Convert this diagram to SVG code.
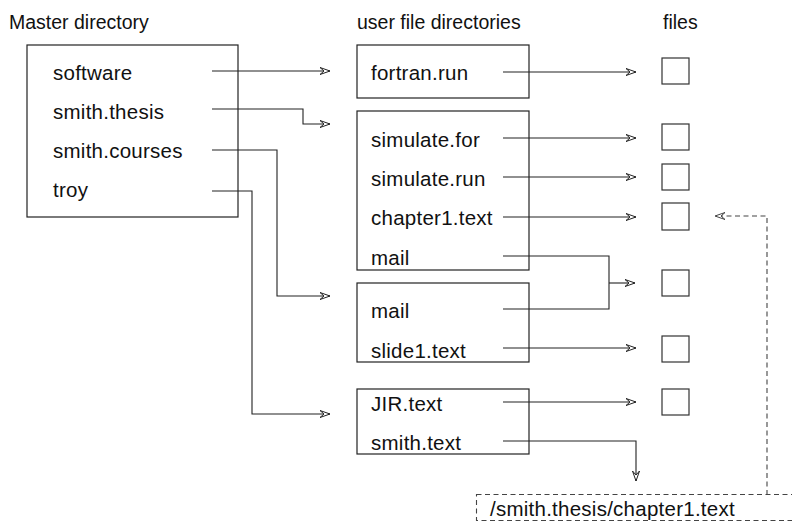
<svg xmlns="http://www.w3.org/2000/svg" width="792" height="521" viewBox="0 0 792 521">
<style>
  .box { fill: none; stroke: #222; stroke-width: 1.2; }
  .file { fill: #fff; stroke: #333; stroke-width: 1.2; }
  .t { font-family: "Liberation Sans", Arial, sans-serif; font-size: 20.5px; fill: #111; letter-spacing: 0.25px; }
  .h { font-family: "Liberation Sans", Arial, sans-serif; font-size: 19.5px; fill: #111; }
  .c { fill: none; stroke: #222; stroke-width: 1.1; marker-end: url(#arr); }
  .cn { fill: none; stroke: #222; stroke-width: 1.1; }
  .d { fill: none; stroke: #444; stroke-width: 1.1; stroke-dasharray: 5 3.5; }
</style>
<defs>
  <marker id="arr" viewBox="0 0 10 8" refX="10" refY="4" markerWidth="10" markerHeight="8" markerUnits="userSpaceOnUse" orient="auto">
    <path d="M0,0.5 L10,4 L0,7.5 L4,4 Z" fill="#fff" stroke="#222" stroke-width="1"/>
  </marker>
  <marker id="arrd" viewBox="0 0 10 8" refX="10" refY="4" markerWidth="10" markerHeight="8" markerUnits="userSpaceOnUse" orient="auto">
    <path d="M0,0.5 L10,4 L0,7.5 L4,4 Z" fill="#fff" stroke="#444" stroke-width="1"/>
  </marker>
</defs>

<g id="headers">
  <text class="h" x="9" y="29">Master directory</text>
  <text class="h" x="357" y="29">user file directories</text>
  <text class="h" x="663" y="29">files</text>
</g>

<g id="master">
  <rect class="box" x="27" y="45" width="211" height="172"/>
  <text class="t" x="53" y="80">software</text>
  <text class="t" x="53" y="119">smith.thesis</text>
  <text class="t" x="53" y="158">smith.courses</text>
  <text class="t" x="53" y="197">troy</text>
</g>

<g id="dir-software">
  <rect class="box" x="357" y="45" width="172" height="53"/>
  <text class="t" x="371" y="80">fortran.run</text>
</g>

<g id="dir-thesis">
  <rect class="box" x="357" y="111" width="172" height="159"/>
  <text class="t" x="371" y="147">simulate.for</text>
  <text class="t" x="371" y="186">simulate.run</text>
  <text class="t" x="371" y="225">chapter1.text</text>
  <text class="t" x="371" y="265">mail</text>
</g>

<g id="dir-courses">
  <rect class="box" x="357" y="283" width="172" height="79"/>
  <text class="t" x="371" y="318">mail</text>
  <text class="t" x="371" y="358">slide1.text</text>
</g>

<g id="dir-troy">
  <rect class="box" x="357" y="389" width="172" height="65"/>
  <text class="t" x="371" y="411">JIR.text</text>
  <text class="t" x="371" y="450">smith.text</text>
</g>

<g id="file-1"><rect class="file" x="662" y="58" width="27" height="26"/></g>
<g id="file-2"><rect class="file" x="662" y="124" width="27" height="26"/></g>
<g id="file-3"><rect class="file" x="662" y="164" width="27" height="26"/></g>
<g id="file-4"><rect class="file" x="662" y="203" width="27" height="27"/></g>
<g id="file-5"><rect class="file" x="662" y="270" width="27" height="26"/></g>
<g id="file-6"><rect class="file" x="662" y="336" width="27" height="26"/></g>
<g id="file-7"><rect class="file" x="662" y="389" width="27" height="26"/></g>

<g id="link-box">
  <rect class="d" x="476.5" y="494.5" width="400" height="26"/>
  <text class="t" x="490" y="516">/smith.thesis/chapter1.text</text>
</g>

<g id="connectors">
  <path class="c" d="M212,71 H330"/>
  <path class="c" d="M212,109 H303 V124 H330"/>
  <path class="c" d="M212,150 H277 V296 H330"/>
  <path class="c" d="M212,191 H252 V414 H330"/>
  <path class="c" d="M503,72 H636"/>
  <path class="c" d="M503,138 H636"/>
  <path class="c" d="M503,177 H636"/>
  <path class="c" d="M503,217 H636"/>
  <path class="cn" d="M503,256 H609 V309 H503"/>
  <path class="c" d="M609,283 H635"/>
  <path class="c" d="M503,348 H636"/>
  <path class="c" d="M503,402 H636"/>
  <path class="c" d="M503,441 H636 V481"/>
  <path class="d" d="M767,495 V216 H715" marker-end="url(#arrd)"/>
</g>
</svg>
